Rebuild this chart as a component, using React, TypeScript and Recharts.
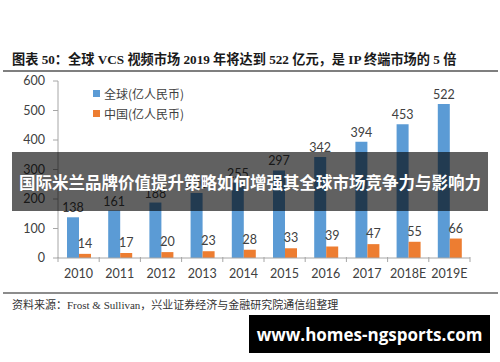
import React from "react";
import { BarChart, Bar, XAxis, YAxis, LabelList } from "recharts";

const years = ["2010", "2011", "2012", "2013", "2014", "2015", "2016", "2017", "2018E", "2019E"];
const globalValues = [138, 161, 188, 220, 255, 297, 342, 394, 453, 522];
const chinaValues = [14, 17, 20, 23, 28, 33, 39, 47, 55, 66];
const yTicks = [0, 100, 200, 300, 400, 500, 600];

const seriesNames = { global: "全球(亿人民币)", china: "中国(亿人民币)" };
const BLUE = "#5B9BD5";
const ORANGE = "#ED7D31";

const data = years.map((year, i) => ({ year, global: globalValues[i], china: chinaValues[i] }));

const W = 500;
const H = 362;
const X_H = 30;
const M = { top: 81, right: 30, left: 0, bottom: 74 };
const Y_W = 58;
const band = (W - M.left - M.right - Y_W) / years.length;

const tickFont = "Lato, 'Noto Sans', sans-serif";
const mixFont = "'Liberation Serif', 'Noto Sans CJK SC', serif";

function XTick(props: any) {
  const { x, y, payload, index } = props;
  return (
    <g>
      <line x1={x - band / 2} x2={x - band / 2} y1={y - 9} y2={y - 4} stroke="#a6a6a6" />
      {index === years.length - 1 && (
        <line x1={x + band / 2} x2={x + band / 2} y1={y - 9} y2={y - 4} stroke="#a6a6a6" />
      )}
      <text x={x} y={y + 12} textAnchor="middle" fill="#404040" fontSize={12.5} fontFamily={tickFont}>
        {payload.value}
      </text>
    </g>
  );
}

function LegendBox() {
  const items = [
    { name: seriesNames.global, color: BLUE },
    { name: seriesNames.china, color: ORANGE },
  ];
  return (
    <div
      style={{
        position: "absolute",
        left: 93,
        top: 83,
        fontFamily: "'Noto Sans CJK SC', sans-serif",
        fontSize: 12,
        color: "#404040",
      }}
    >
      {items.map((it) => (
        <div key={it.name} style={{ display: "flex", alignItems: "center", height: 20 }}>
          <span style={{ width: 7, height: 7, background: it.color, marginRight: 4, display: "inline-block" }} />
          {it.name}
        </div>
      ))}
    </div>
  );
}

export default function App() {
  return (
    <div style={{ position: "absolute", left: 0, top: 0, width: W, height: H, background: "#fff", overflow: "hidden" }}>
      <div
        style={{
          position: "absolute",
          left: 12,
          top: 50,
          fontFamily: mixFont,
          fontWeight: 700,
          fontSize: 13.2,
          color: "#1a1a1a",
          whiteSpace: "nowrap",
          lineHeight: "20px",
        }}
      >
        图表 50：全球 VCS 视频市场 2019 年将达到 522 亿元，是 IP 终端市场的 5 倍
      </div>
      <div style={{ position: "absolute", left: 3, top: 70, width: 495, height: 2, background: "#7f7f7f" }} />

      <BarChart width={W} height={H} data={data} margin={M} barGap={0} barSize={12} style={{ position: "absolute", left: 0, top: 0 }}>
        <XAxis
          dataKey="year"
          height={X_H}
          axisLine={{ stroke: "#a6a6a6" }}
          tickLine={false}
          tick={<XTick />}
          interval={0}
        />
        <YAxis
          width={Y_W}
          domain={[0, 600]}
          ticks={yTicks}
          axisLine={{ stroke: "#a6a6a6" }}
          tickLine={{ stroke: "#a6a6a6" }}
          tickSize={5}
          tickMargin={8}
          tick={{ fill: "#404040", fontSize: 12.5, fontFamily: tickFont }}
        />
        <Bar dataKey="global" name={seriesNames.global} fill={BLUE} isAnimationActive={false}>
          <LabelList dataKey="global" position="top" offset={5} fill="#404040" fontSize={12.5} fontFamily={tickFont} />
        </Bar>
        <Bar dataKey="china" name={seriesNames.china} fill={ORANGE} isAnimationActive={false}>
          <LabelList dataKey="china" position="top" offset={6} fill="#404040" fontSize={12.5} fontFamily={tickFont} />
        </Bar>
      </BarChart>

      <LegendBox />

      <div
        style={{
          position: "absolute",
          left: 12,
          top: 152,
          width: 476,
          height: 59,
          background: "rgba(0,0,0,0.62)",
          color: "#fff",
          fontFamily: "'Noto Sans CJK SC', sans-serif",
          fontWeight: 700,
          fontSize: 16.5,
          display: "flex",
          alignItems: "center",
          justifyContent: "center",
          whiteSpace: "nowrap",
        }}
      >
        国际米兰品牌价值提升策略如何增强其全球市场竞争力与影响力
      </div>

      <div style={{ position: "absolute", left: 3, top: 292, width: 495, height: 2, background: "#8c8c8c" }} />
      <div
        style={{
          position: "absolute",
          left: 12,
          top: 297,
          fontFamily: mixFont,
          fontSize: 11,
          color: "#333",
          whiteSpace: "nowrap",
          lineHeight: "16px",
        }}
      >
        资料来源：Frost &amp; Sullivan，兴业证券经济与金融研究院通信组整理
      </div>

      <div
        style={{
          position: "absolute",
          left: 249,
          top: 315,
          width: 241,
          height: 38,
          background: "#000",
          color: "#fff",
          fontFamily: "'Open Sans', sans-serif",
          fontWeight: 700,
          fontSize: 17,
          display: "flex",
          alignItems: "center",
          justifyContent: "center",
          whiteSpace: "nowrap",
        }}
      >
        www.homes-ngsports.com
      </div>
    </div>
  );
}
